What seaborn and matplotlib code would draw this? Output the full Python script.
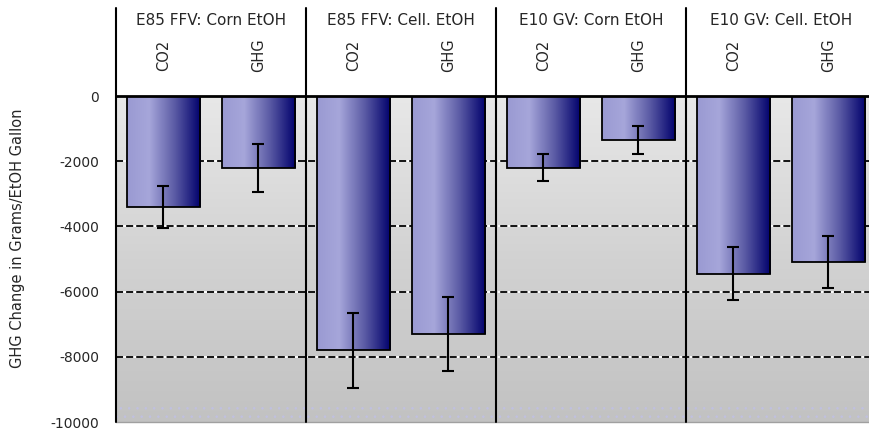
import numpy as np
import pandas as pd
import seaborn as sns
import matplotlib.pyplot as plt
from matplotlib.colors import LinearSegmentedColormap
from matplotlib.transforms import blended_transform_factory

# data
groups = ["E85 FFV: Corn EtOH", "E85 FFV: Cell. EtOH", "E10 GV: Corn EtOH", "E10 GV: Cell. EtOH"]
gases = ["CO2", "GHG"]
values = [-3400, -2200, -7800, -7300, -2200, -1350, -5450, -5100]
errors = [650, 730, 1150, 1130, 420, 440, 820, 800]
yticks = [0, -2000, -4000, -6000, -8000, -10000]

df = pd.DataFrame({
    "group": np.repeat(groups, 2),
    "gas": gases * 4,
    "value": values,
    "err": errors,
})
df["bar"] = df["group"] + " | " + df["gas"]

sns.set_style("white")
plt.rcParams["font.family"] = ["DejaVu Sans"]
plt.rcParams["hatch.linewidth"] = 0.6

fig = plt.figure(figsize=(8.7, 4.36), dpi=100)
ax = fig.add_axes([116 / 870, 14 / 436, 760 / 870, 326 / 436])

sns.barplot(data=df, x="bar", y="value", color="#6a6ab0", width=0.77,
            errorbar=None, ax=ax, zorder=3)
bars = list(ax.patches)

# gradient fill for bars
barcm = LinearSegmentedColormap.from_list(
    "bar", [(0, "#9a9ad2"), (0.3, "#a6a6da"), (0.65, "#5a5aa4"), (1, "#00006c")])
hgrad = np.linspace(0, 1, 256).reshape(1, -1)
for p in bars:
    x0, y0, w, h = p.get_x(), p.get_y(), p.get_width(), p.get_height()
    im = ax.imshow(hgrad, extent=[x0, x0 + w, y0 + h, y0], aspect="auto",
                   cmap=barcm, zorder=2)
    im.set_clip_path(p)
    p.set_facecolor("none")
    p.set_edgecolor("black")
    p.set_linewidth(1.3)

# background gradient
bg = LinearSegmentedColormap.from_list("bg", ["#c2c2c2", "#d2d2d2", "#e8e8e8"])
ax.imshow(np.linspace(0, 1, 256).reshape(-1, 1), extent=[0, 1, 0, 1],
          transform=ax.transAxes, aspect="auto", cmap=bg, origin="lower", zorder=0)
# dotted band at bottom
ax.axhspan(-10000, -9400, facecolor="none", edgecolor="#c0c0e0", hatch="..",
           linewidth=0, zorder=0.5)

# dashed grid lines
for y in yticks[1:-1]:
    ax.axhline(y, color="white", lw=1.3, zorder=1)
    ax.axhline(y, color="black", lw=1.3, ls=(0, (3.9, 1.7)), zorder=1.1)

xs = np.arange(len(df))
ax.errorbar(xs, df["value"], yerr=df["err"], fmt="none", ecolor="black",
            elinewidth=1.5, capsize=4, capthick=1.5, zorder=4)

# panel dividers and header
tr = blended_transform_factory(ax.transData, ax.transAxes)
for xd in [-0.5, 1.5, 3.5, 5.5]:
    ax.plot([xd, xd], [0, 1.27], color="black", lw=1.5, transform=tr,
            clip_on=False, zorder=5)
for i, g in enumerate(groups):
    ax.text(2 * i + 0.5, 1.233, g, transform=tr, ha="center", va="center",
            fontsize=11)
for x, gas in zip(xs, df["gas"]):
    ax.text(x, 1.126, gas, transform=tr, ha="center", va="center",
            rotation=90, fontsize=10.5)

ax.set_xlim(-0.5, 7.5)
ax.set_ylim(-10000, 0)
ax.set_xticks([])
ax.set_xlabel("")
ax.set_yticks(yticks)
ax.set_yticklabels([str(v) for v in yticks], fontsize=10)
ax.tick_params(axis="y", length=0, pad=12)
ax.set_ylabel("")
fig.text(18 / 870, 1 - 238 / 436, "GHG Change in Grams/EtOH Gallon",
         rotation=90, ha="center", va="center", fontsize=10.5)

for s in ["left", "right"]:
    ax.spines[s].set_visible(False)
ax.spines["top"].set_linewidth(2)
ax.spines["top"].set_color("black")
ax.spines["bottom"].set_color("#a0a0a0")
ax.spines["bottom"].set_linewidth(1)

fig.savefig("out.png", dpi=100)
